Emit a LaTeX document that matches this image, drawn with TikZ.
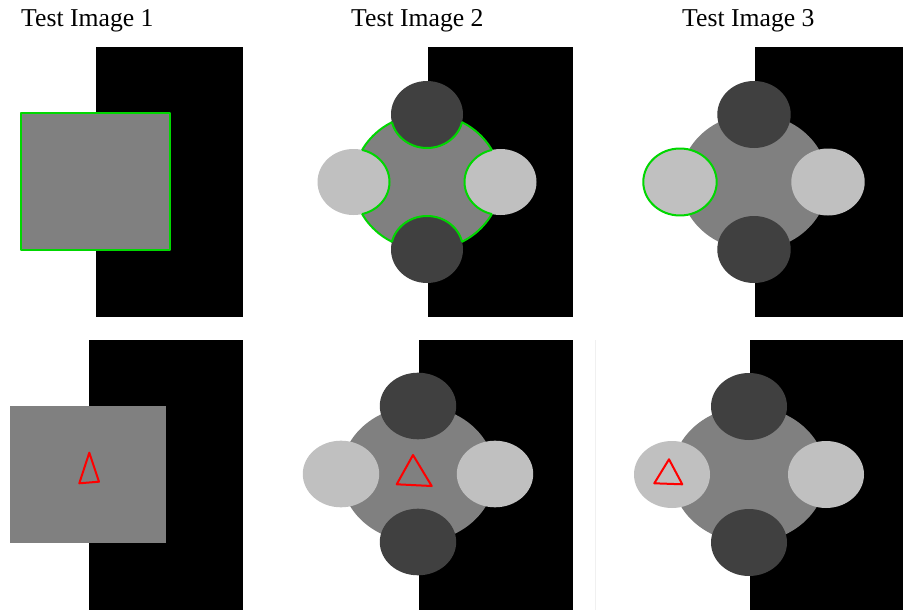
\documentclass[tikz,border=0pt]{standalone}
\usepackage{fontspec}
\setmainfont{Liberation Serif}
\usepackage{tikz}
\usetikzlibrary{positioning}
\definecolor{midgray}{RGB}{128,128,128}
\definecolor{darkblob}{RGB}{64,64,64}
\definecolor{lightblob}{RGB}{192,192,192}
\definecolor{contourgreen}{RGB}{0,215,0}
\tikzset{
    backplate/.style={fill=black},
    mid/.style={fill=midgray},
    dark/.style={fill=darkblob},
    light/.style={fill=lightblob},
    contour/.style={draw=contourgreen, line width=2pt, line join=round},
    initcurve/.style={draw=red, line width=2pt, line join=round},
    caption/.style={font=\fontsize{25.7}{30}\selectfont, anchor=base west, inner sep=0pt}
}

\begin{document}
\begin{tikzpicture}[x=1pt, y=-1pt]
    \useasboundingbox[fill=white] (0,0) rectangle (903,610);
    % captions
    \node[caption] (cap1) at (21,27) {Test Image 1};
    \node[caption] (cap2) at (351,27) {Test Image 2};
    \node[caption] (cap3) at (682,27) {Test Image 3};

    % top row, image 1
    \fill[backplate] (96,47) rectangle (243,317);
    \fill[mid] (20.7,112.7) rectangle (170,250);
    \draw[contour] (20.7,112.7) rectangle (170,250);

    % top row, image 2
    \fill[backplate] (427.7,47) rectangle (572.7,317);
    \begin{scope}[shift={(427,182)}]
        \fill[mid] (0,0) ellipse [x radius=73.5, y radius=68];
        \draw[contour] (0,0) ellipse [x radius=73.5, y radius=68];
        \fill[dark] (0,-67.5) ellipse [x radius=36, y radius=33.5];
        \fill[dark] (0,67.5) ellipse [x radius=36, y radius=33.5];
        \fill[light] (-73.5,0) ellipse [x radius=36, y radius=33];
        \fill[light] (73.5,0) ellipse [x radius=36, y radius=33];
        \begin{scope}
            \clip (0,0) ellipse [x radius=73.5, y radius=68];
            \draw[contour] (0,-67.5) ellipse [x radius=36, y radius=33.5];
            \draw[contour] (0,67.5) ellipse [x radius=36, y radius=33.5];
            \draw[contour] (-73.5,0) ellipse [x radius=36, y radius=33];
            \draw[contour] (73.5,0) ellipse [x radius=36, y radius=33];
        \end{scope}
    \end{scope}

    % top row, image 3
    \fill[backplate] (755,47) rectangle (903,317);
    \begin{scope}[shift={(754,182)}]
        \fill[mid] (0,0) ellipse [x radius=74, y radius=68];
        \fill[dark] (0,-67.5) ellipse [x radius=36.7, y radius=33.5];
        \fill[dark] (0,67.5) ellipse [x radius=36.7, y radius=33.5];
        \fill[light] (74,0) ellipse [x radius=36.7, y radius=33.5];
        \draw[light, contour] (-74,0) ellipse [x radius=36.7, y radius=33.5];
    \end{scope}

    % bottom row, image 1
    \fill[backplate] (89,340) rectangle (243,610);
    \fill[mid] (10.3,406.3) rectangle (166.3,542.7);
    \draw[initcurve] (89.3,452.7) -- (79.3,483.3) -- (99,481.7) -- cycle;

    % bottom row, image 2
    \fill[backplate] (419,340) rectangle (572.7,610);
    \begin{scope}[shift={(418,474)}]
        \fill[mid] (0,0) ellipse [x radius=77, y radius=68];
        \fill[dark] (0,-68) ellipse [x radius=38.2, y radius=33.3];
        \fill[dark] (0,68) ellipse [x radius=38.2, y radius=33.3];
        \fill[light] (-77,0) ellipse [x radius=38.2, y radius=33.3];
        \fill[light] (77,0) ellipse [x radius=38.2, y radius=33.3];
    \end{scope}
    \draw[initcurve] (413,455) -- (396.7,484.3) -- (431.7,486) -- cycle;

    % bottom row, image 3
    \draw[gray!12, line width=0.8pt] (595,340) -- (595,610);
    \fill[backplate] (749.7,340) rectangle (903,610);
    \begin{scope}[shift={(749,474.5)}]
        \fill[mid] (0,0) ellipse [x radius=77, y radius=68];
        \fill[dark] (0,-68) ellipse [x radius=38, y radius=33.5];
        \fill[dark] (0,68) ellipse [x radius=38, y radius=33.5];
        \fill[light] (-77,0) ellipse [x radius=38, y radius=33.5];
        \fill[light] (77,0) ellipse [x radius=38, y radius=33.5];
    \end{scope}
    \draw[initcurve] (669,459.3) -- (654.3,483.3) -- (682.3,484.3) -- cycle;
\end{tikzpicture}
\end{document}
